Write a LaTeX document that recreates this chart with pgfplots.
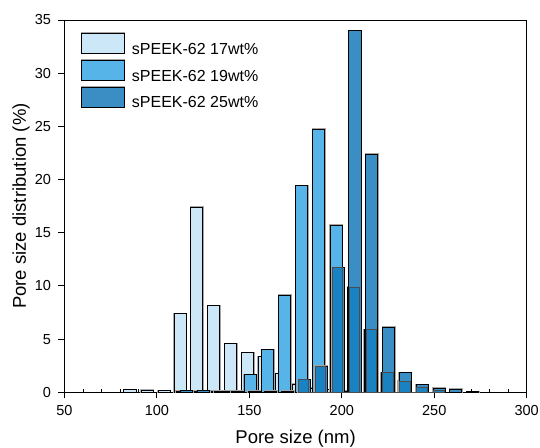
\documentclass[border=0pt]{standalone}
\usepackage{fontspec}
\setmainfont{Liberation Sans}
\usepackage{pgfplots}
\pgfplotsset{compat=1.18}
\definecolor{c17}{HTML}{CCE8F8}
\definecolor{c19}{HTML}{56B4E9}
\definecolor{c25}{HTML}{3A8EC4}
\definecolor{cov}{HTML}{1982C2}
\pgfplotsset{mybar/.style={ybar, bar width=6.5, bar shift=0pt, draw=black, line width=0.9pt,
    preaction={draw=black!35, line width=2pt}}}
\begin{document}
\begin{tikzpicture}
\useasboundingbox (0,0) rectangle (540bp,448bp);
\begin{axis}[
  at={(64.5bp,55.7bp)}, anchor=south west,
  scale only axis, width=462.2bp, height=372.3bp,
  xmin=50, xmax=300, ymin=0, ymax=35,
  xtick={50,100,...,300}, ytick={0,5,...,35},
  minor x tick num=4,
  tick pos=left, tick align=outside,
  major tick length=6bp, minor tick length=3.5bp,
  minor x tick style={yshift=3.5bp},
  axis line style={black, line width=0.9pt},
  tick style={black, line width=0.9pt},
  ticklabel style={font=\fontsize{14.5bp}{17bp}\selectfont},
  every x tick label/.append style={yshift=-4bp},
  every y tick label/.append style={xshift=-4bp},
  /pgf/number format/assume math mode=true,
  xlabel={Pore size (nm)}, ylabel={Pore size distribution (\%)},
  label style={font=\fontsize{18.5bp}{22bp}\selectfont},
  x label style={at={(axis description cs:0.5,-0.100)}, anchor=north, inner sep=0pt},
  y label style={at={(axis description cs:-0.094,0.5)}, anchor=center, inner sep=0pt},
  legend cell align=left,
  legend style={at={(axis description cs:0.035,0.967)}, anchor=north west,
    draw=none, fill=none, inner sep=0pt, row sep=3.5bp,
    font=\fontsize{16bp}{19bp}\selectfont,
    nodes={inner sep=0pt},
    /tikz/every odd column/.append style={column sep=6.5bp}},
  legend image code/.code={\draw[#1] (0bp,-4bp) rectangle (42.6bp,16bp);},
]
\addplot[mybar, fill=c17] coordinates {
(85.4,0.25) (94.6,0.22) (103.8,0.15) (112.5,7.40) (121.5,17.38) (130.6,8.15)
(139.8,4.58) (149.1,3.73) (157.9,3.36) (167.1,1.76) (176.3,0.74) (185.5,0.36)
(194.7,0.25) (203.8,0.12)
};
\addlegendentry{sPEEK-62 17wt\%}
\addplot[mybar, fill=c19] coordinates {
(113.6,0.08) (122.8,0.08) (132.1,0.08) (141.3,0.08)
(150.6,1.66) (159.9,4.01) (169.1,9.12) (178.4,19.43) (187.6,24.71) (196.9,15.71)
(206.4,9.90) (215.4,5.90) (224.6,1.85) (233.9,1.03) (243.2,0.50) (252.4,0.20)
};
\addlegendentry{sPEEK-62 19wt\%}
\addplot[mybar, fill=c25] coordinates {
(116.1,0.15) (125.2,0.15) (134.3,0.12) (143.4,0.12) (152.5,0.1) (161.6,0.1)
(170.7,0.1) (179.8,1.19) (188.9,2.45) (198.0,11.73) (207.1,34.0) (216.2,22.40)
(225.3,6.11) (234.4,1.85) (243.5,0.72) (252.6,0.38) (261.7,0.28) (270.8,0.05)
};
\addlegendentry{sPEEK-62 25wt\%}
% where the 25wt% bars cover the 19wt% bars
\addplot[ybar interval, fill=cov, draw=black!70, line width=0.5pt, forget plot] coordinates {
(176.55,1.19) (181.65,0) (185.65,2.45) (190.85,0) (194.75,11.73) (200.15,0)
(203.85,9.90) (209.65,0) (212.95,5.90) (218.65,0) (222.05,1.85) (227.85,0)
(231.15,1.03) (237.15,0) (240.25,0.50) (246.45,0) (249.35,0.20) (255.65,0)
};
\end{axis}
\end{tikzpicture}
\end{document}
